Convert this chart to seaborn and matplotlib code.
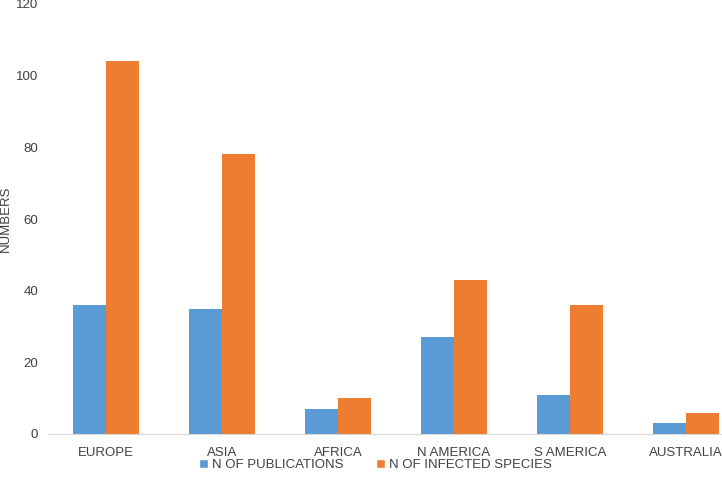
import matplotlib
matplotlib.use("Agg")
import matplotlib.pyplot as plt
import pandas as pd
import seaborn as sns
from matplotlib.patches import Patch

# -------- data --------
regions = ["EUROPE", "ASIA", "AFRICA", "N AMERICA", "S AMERICA", "AUSTRALIA"]
n_publications = [36, 35, 7, 27, 11, 3]
n_infected_species = [104, 78, 10, 43, 36, 6]
series_names = ["N OF PUBLICATIONS", "N OF INFECTED SPECIES"]
y_ticks = [0, 20, 40, 60, 80, 100, 120]

BLUE = "#5B9BD5"
ORANGE = "#ED7D31"
TEXT = "#404040"

df = pd.DataFrame({
    "region": regions * 2,
    "value": n_publications + n_infected_species,
    "series": [series_names[0]] * len(regions) + [series_names[1]] * len(regions),
})

# -------- plotting --------
sns.set_theme(style="white")
plt.rcParams["font.family"] = ["Liberation Sans", "DejaVu Sans"]

fig = plt.figure(figsize=(7.22, 4.79), dpi=100)
ax = fig.add_axes([48 / 722, 45 / 479, 696 / 722, 430 / 479])

sns.barplot(data=df, x="region", y="value", hue="series", order=regions,
            hue_order=series_names, palette=[BLUE, ORANGE], width=0.57,
            gap=0, saturation=1, linewidth=0, ax=ax, legend=False)

ax.set_xlim(-0.5, len(regions) - 0.5)
ax.set_ylim(0, 120)
ax.set_yticks(y_ticks)
ax.set_xlabel("")
ax.set_ylabel("NUMBERS", fontsize=9.5, color=TEXT)
ax.yaxis.set_label_coords(-0.052, 0.5)
ax.tick_params(axis="both", length=0, labelsize=9.5, labelcolor=TEXT)
ax.tick_params(axis="y", pad=7)
ax.tick_params(axis="x", pad=9)

for side in ["top", "right", "left"]:
    ax.spines[side].set_visible(False)
ax.spines["bottom"].set_color("#D9D9D9")
ax.spines["bottom"].set_linewidth(0.8)

handles = [Patch(facecolor=BLUE, label=series_names[0]),
           Patch(facecolor=ORANGE, label=series_names[1])]
leg = fig.legend(handles=handles, loc="center", bbox_to_anchor=(0.52, 0.03),
                 ncol=2, frameon=False, fontsize=9.5, handlelength=0.7,
                 handleheight=0.7, handletextpad=0.3, columnspacing=2.4)
for t in leg.get_texts():
    t.set_color(TEXT)

fig.savefig("out.png", dpi=100)
